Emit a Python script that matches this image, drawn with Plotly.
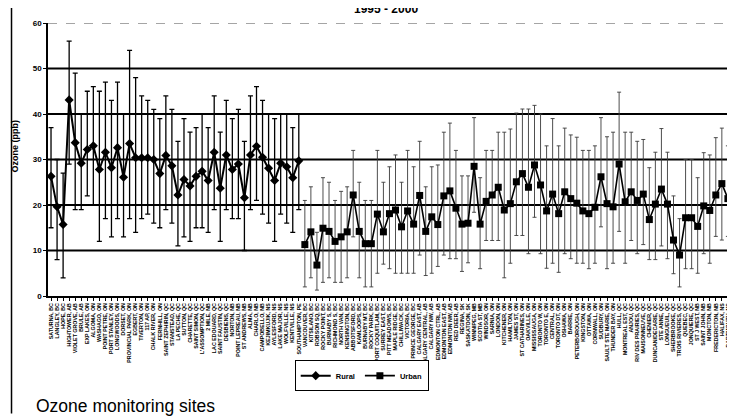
import plotly.graph_objects as go

rural_sites = [
    "SATURNA, BC", "LANGLEY, BC", "HOPE, BC", "HIGHTOWER, AB", "VIOLET GROVE, AB", "BRULE, AB",
    "EXP LAKES, ON", "ALGOMA, ON", "WASHAGO, ON", "POINT PETRE, ON", "PORT STANLEY, ON", "LONGWOODS, ON",
    "DORSET, ON", "PROVINCIAL PARK, ON", "EGBERT, ON", "TIVERTON, ON", "117 AP, ON", "CHALK RIVER, ON",
    "FERNHILL, ON", "SAINT ZEPHIRIN, QC", "STANSTEAD, QC", "LA PECHE, QC", "SUTTON, QC", "CHARETTE, QC",
    "SAINT SIMON, QC", "L'ASSOMPTION, QC", "2 MILE, NB", "LAC EDOUARD, QC", "SAINT FAUSTIN, QC", "DESBIENS, QC",
    "NORTON, NB", "POINT LEPREAU, NB", "ST ANDREWS, NB", "ALMA, NB", "CHARLO, NB", "CAMPOBELLO, NB",
    "KEJIMKUJIK, NS", "AYLESFORD, NS", "LAKE MAJOR, NS", "WOLFVILLE, NS", "KENTVILLE, NS", "SOUTHAMPTON, PE",
]
urban_sites = [
    "VANCOUVER, BC", "KITSILANO, BC", "ROBSON SQ, BC", "ROCKY POINT, BC", "BURNABY S, BC", "RICHMOND S, BC",
    "NORTH VAN, BC", "KENSINGTON, BC", "ABBOTSFORD, BC", "KAMLOOPS, BC", "BURNABY MT, BC", "ROCKY PARK, BC",
    "PORT COQUITLAM, BC", "SURREY EAST, BC", "PITT MEADOWS, BC", "MAPLE RIDGE, BC", "CHILLIWACK, BC", "VICTORIA, BC",
    "PRINCE GEORGE, BC", "CALGARY EAST, AB", "CALGARY CENTRAL, AB", "CALGARY NW, AB", "EDMONTON CTRL, AB", "EDMONTON EAST, AB",
    "EDMONTON NW, AB", "RED DEER, AB", "REGINA, SK", "SASKATOON, SK", "WINNIPEG, MB", "SCOTIA ST, MB",
    "WINDSOR, ON", "SARNIA, ON", "LONDON, ON", "KITCHENER, ON", "HAMILTON, ON", "JAMES ST, ON",
    "ST CATHARINES, ON", "OAKVILLE, ON", "MISSISSAUGA, ON", "TORONTO W, ON", "TORONTO E, ON", "CENTRAL, ON",
    "TORONTO DT, ON", "OSHAWA, ON", "BARRIE, ON", "PETERBOROUGH, ON", "KINGSTON, ON", "OTTAWA, ON",
    "CORNWALL, ON", "SUDBURY, ON", "SAULT STE MARIE, ON", "THUNDER BAY, ON", "HULL, QC", "MONTREAL EST, QC",
    "ANJOU, QC", "RIV DES PRAIRIES, QC", "MAISONNEUVE, QC", "CHENIER, QC", "DUNCAN/DECARIE, QC", "STE ANNE, QC",
    "LONGUEUIL, QC", "SHERBROOKE, QC", "TROIS RIVIERES, QC", "QUEBEC, QC", "JONQUIERE, QC", "ST J WEST, NB",
    "SAINT JOHN, NB", "MONCTON, NB", "FREDERICTON, NB", "HALIFAX, NS", "DARTMOUTH, NS", "CHARLOTTETOWN, PE",
    "ST. JOHN'S, NF", "CORNER BROOK, NF",
]

rural_mean = [26.3, 19.6, 15.7, 43.1, 33.7, 29.2, 32.2, 33.0, 27.8, 31.6, 28.2, 32.6, 26.1, 33.5,
              30.4, 30.4, 30.4, 30.0, 26.9, 30.9, 28.6, 22.2, 25.6, 24.2, 26.3, 27.4, 25.4, 31.6,
              23.7, 31.0, 27.8, 29.0, 21.6, 31.0, 32.9, 30.5, 28.1, 25.4, 29.2, 28.4, 26.0, 29.7]
rural_max = [37, 30, 27, 56, 49, 40, 45, 46, 45, 47, 43, 47, 40, 54, 48, 44, 43, 41, 39, 44, 41,
             34, 39, 36, 37, 40, 37, 44, 36, 43, 39, 41, 34, 44, 46, 43, 40, 39, 40, 40, 37, 40]
rural_min = [15, 8, 4, 29, 19, 19, 22, 20, 12, 17, 13, 17, 13, 17, 14, 17, 18, 16, 15, 19, 16,
             11, 13, 12, 15, 15, 14, 19, 12, 19, 17, 17, 10, 19, 21, 18, 16, 12, 18, 16, 14, 19]

urban_mean = [11.3, 14.1, 6.8, 14.9, 14.2, 12.0, 13.0, 14.1, 22.2, 14.2, 11.5, 11.5, 18.0, 14.1,
              18.1, 18.9, 15.2, 18.7, 15.8, 22.1, 14.2, 17.4, 15.7, 22.0, 23.1, 19.3, 15.8, 16.0,
              28.5, 15.8, 20.8, 22.2, 23.9, 18.9, 20.3, 25.1, 26.9, 23.9, 28.8, 24.4, 18.7, 22.4,
              18.1, 22.9, 21.4, 20.4, 18.7, 18.1, 19.5, 26.2, 20.3, 19.6, 29.0, 20.7, 22.9, 21.0,
              22.4, 16.8, 20.2, 23.5, 20.2, 12.3, 9.0, 17.2, 17.2, 15.3, 19.8, 18.8, 22.2, 24.7,
              21.4, 22.7, 22.7, 18.6]
urban_max = [21, 24, 14, 26, 25, 21, 23, 24, 32, 25, 21, 21, 32, 25, 28.4, 31, 25, 32, 28.4, 34,
             24, 28.4, 28.8, 36, 38, 32, 26.4, 26.4, 39.2, 26, 32, 32, 36, 36, 36.7, 40.2, 41.1,
             41.1, 41.9, 40, 33, 39, 33, 36.9, 35.4, 34.9, 32, 32, 33, 39.2, 35, 36, 44.8, 36, 36,
             34, 34.4, 28.2, 31.6, 36.8, 31.6, 22, 17, 30, 30, 26, 31.5, 31, 34.8, 36.9, 33, 33.8,
             35.7, 33]
urban_min = [2, 4, 1.3, 3, 4, 3, 3, 4, 13, 4, 2, 2, 5, 7, 6, 5, 5, 5, 5, 9, 4.5, 5, 6.5, 9, 8.2,
             8.2, 5.4, 7.3, 18.4, 6, 12.2, 12.2, 12.2, 4, 7.2, 13.3, 13.3, 9.3, 17.3, 9.3, 6.1, 7.2,
             5.2, 9.3, 8.2, 7.2, 7.2, 6, 7.2, 15.2, 6, 7.2, 14.2, 7.2, 12.2, 9.3, 11.3, 8, 8, 11,
             8.2, 4.9, 2, 6, 6, 5, 9.3, 7.2, 13.1, 12.3, 13.1, 10.9, 14.2, 9]

y_ticks = [0, 10, 20, 30, 40, 50, 60]

sites = rural_sites + urban_sites
rx = list(range(len(rural_sites)))
ux = list(range(len(rural_sites), len(sites)))

fig = go.Figure()
fig.add_trace(go.Scatter(
    x=rx, y=rural_mean, mode="lines+markers", name="Rural",
    line=dict(color="black", width=2),
    marker=dict(symbol="diamond", size=7, color="black"),
    error_y=dict(type="data", symmetric=False,
                 array=[a - m for a, m in zip(rural_max, rural_mean)],
                 arrayminus=[m - b for m, b in zip(rural_mean, rural_min)],
                 color="black", thickness=1.3, width=2.5),
))
fig.add_trace(go.Scatter(
    x=ux, y=urban_mean, mode="lines+markers", name="Urban",
    line=dict(color="black", width=1.6),
    marker=dict(symbol="square", size=7, color="black"),
    error_y=dict(type="data", symmetric=False,
                 array=[a - m for a, m in zip(urban_max, urban_mean)],
                 arrayminus=[m - b for m, b in zip(urban_mean, urban_min)],
                 color="#3a3a3a", thickness=0.9, width=2),
))

shapes = []
for v in y_ticks[1:]:
    shapes.append(dict(type="line", xref="paper", x0=0, x1=1, yref="y", y0=v, y1=v, layer="below",
                       line=dict(color="#888888" if v == 60 else "black", width=1.3 if v == 60 else 2,
                                 dash="dash" if v == 60 else "solid")))
shapes.append(dict(type="line", xref="paper", x0=-0.0525, x1=-0.0525, yref="paper", y0=1.06, y1=-0.43,
                   line=dict(color="black", width=1.5)))

bold = dict(family="Liberation Sans, Arial, sans-serif", color="black", weight="bold")

fig.update_layout(
    width=735, height=417,
    margin=dict(l=40, r=0, t=15, b=129, autoexpand=False),
    paper_bgcolor="white", plot_bgcolor="white",
    shapes=shapes,
    showlegend=True,
    legend=dict(orientation="h", x=0.355, y=-0.235, xanchor="left", yanchor="top",
                bordercolor="black", borderwidth=1, bgcolor="white",
                font=dict(size=7.5, **bold), itemwidth=30, tracegroupgap=0),
    xaxis=dict(range=[-0.5, len(sites) - 1.5], tickmode="array", tickvals=list(range(len(sites))),
               ticktext=sites, tickangle=-90, tickfont=dict(size=5.3, **bold),
               showline=True, linecolor="black", linewidth=2, ticks="outside", ticklen=3,
               tickcolor="black", tickwidth=1, showgrid=False, zeroline=False, automargin=False),
    yaxis=dict(range=[0, 60], tickmode="array", tickvals=y_ticks, tickfont=dict(size=8, **bold),
               showline=True, linecolor="black", linewidth=1.5, ticks="outside", ticklen=3,
               tickcolor="black", showgrid=False, zeroline=False, automargin=False),
    annotations=[
        dict(text="1995 - 2000", xref="paper", yref="paper", x=0.486, y=1.05, xanchor="center",
             yanchor="middle", showarrow=False, font=dict(size=12, **bold)),
        dict(text="Ozone (ppb)", xref="paper", yref="paper", x=-0.048, y=0.55, xanchor="center",
             yanchor="middle", textangle=-90, showarrow=False, font=dict(size=9, **bold)),
        dict(text="Ozone monitoring sites", xref="paper", yref="paper", x=-0.02, y=-0.36,
             xanchor="left", yanchor="top", showarrow=False,
             font=dict(size=17.5, family="Liberation Sans, Arial, sans-serif", color="black")),
    ],
)

fig.write_html("out.html")
